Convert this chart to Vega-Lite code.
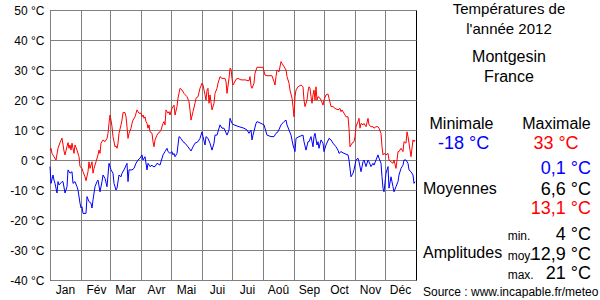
{
"$schema": "https://vega.github.io/schema/vega-lite/v6.json",
"background": "white",
"padding": {"left": 9, "top": 2, "right": 0, "bottom": 0},
"spacing": 0,
"config": {"font": "Liberation Sans", "view": {"stroke": "black", "strokeWidth": 1}},
"resolve": {"scale": {"color": "independent", "x": "independent", "y": "independent"}},
"hconcat": [
{
"width": 366, "height": 270,
"data": {"values": [
{"d":0,"t":3.3,"s":"max"},{"d":1,"t":3.9,"s":"max"},{"d":2,"t":2.2,"s":"max"},{"d":4,"t":1.1,"s":"max"},{"d":6,"t":0,"s":"max"},{"d":8,"t":3.9,"s":"max"},{"d":10,"t":5.8,"s":"max"},{"d":12,"t":7.3,"s":"max"},{"d":14,"t":3,"s":"max"},{"d":15,"t":1.7,"s":"max"},{"d":17,"t":4.5,"s":"max"},{"d":18,"t":5.8,"s":"max"},{"d":19,"t":3.9,"s":"max"},{"d":20,"t":5,"s":"max"},{"d":21,"t":3.3,"s":"max"},{"d":22,"t":5.6,"s":"max"},{"d":24,"t":2.2,"s":"max"},{"d":25,"t":5,"s":"max"},{"d":27,"t":3.3,"s":"max"},{"d":29,"t":1.1,"s":"max"},{"d":30,"t":-2.2,"s":"max"},{"d":32,"t":-2.8,"s":"max"},{"d":33,"t":-3.9,"s":"max"},{"d":35,"t":-5.6,"s":"max"},{"d":36,"t":-6.9,"s":"max"},{"d":38,"t":-3.9,"s":"max"},{"d":39,"t":-0.6,"s":"max"},{"d":40,"t":-2.8,"s":"max"},{"d":42,"t":-0.6,"s":"max"},{"d":43,"t":-4.4,"s":"max"},{"d":44,"t":-2.8,"s":"max"},{"d":46,"t":-0.6,"s":"max"},{"d":48,"t":1.7,"s":"max"},{"d":49,"t":3.3,"s":"max"},{"d":50,"t":2.2,"s":"max"},{"d":51,"t":5.6,"s":"max"},{"d":53,"t":6.7,"s":"max"},{"d":55,"t":6.1,"s":"max"},{"d":57,"t":7.2,"s":"max"},{"d":58,"t":8.9,"s":"max"},{"d":59,"t":12.2,"s":"max"},{"d":60,"t":15,"s":"max"},{"d":61,"t":13.3,"s":"max"},{"d":62,"t":11.1,"s":"max"},{"d":63,"t":7.8,"s":"max"},{"d":65,"t":4.4,"s":"max"},{"d":66,"t":4.7,"s":"max"},{"d":67,"t":3.9,"s":"max"},{"d":68,"t":5.6,"s":"max"},{"d":69,"t":8.9,"s":"max"},{"d":71,"t":11.7,"s":"max"},{"d":72,"t":13.3,"s":"max"},{"d":73,"t":15.8,"s":"max"},{"d":75,"t":15.8,"s":"max"},{"d":76,"t":14.4,"s":"max"},{"d":77,"t":11.1,"s":"max"},{"d":78,"t":7.2,"s":"max"},{"d":79,"t":8.9,"s":"max"},{"d":81,"t":10.6,"s":"max"},{"d":82,"t":12.2,"s":"max"},{"d":83,"t":13.3,"s":"max"},{"d":85,"t":14.4,"s":"max"},{"d":87,"t":16.7,"s":"max"},{"d":88,"t":16.1,"s":"max"},{"d":89,"t":15.6,"s":"max"},{"d":91,"t":15.6,"s":"max"},{"d":92,"t":14.4,"s":"max"},{"d":93,"t":15,"s":"max"},{"d":94,"t":13.9,"s":"max"},{"d":95,"t":14.4,"s":"max"},{"d":96,"t":12.8,"s":"max"},{"d":97,"t":12.2,"s":"max"},{"d":98,"t":10.6,"s":"max"},{"d":99,"t":11.7,"s":"max"},{"d":100,"t":9.4,"s":"max"},{"d":102,"t":8.9,"s":"max"},{"d":103,"t":6.1,"s":"max"},{"d":104,"t":4.4,"s":"max"},{"d":105,"t":6.7,"s":"max"},{"d":107,"t":8.3,"s":"max"},{"d":108,"t":8.9,"s":"max"},{"d":110,"t":9.4,"s":"max"},{"d":111,"t":10,"s":"max"},{"d":113,"t":12.2,"s":"max"},{"d":114,"t":12.8,"s":"max"},{"d":115,"t":11.7,"s":"max"},{"d":116,"t":16.7,"s":"max"},{"d":118,"t":15.6,"s":"max"},{"d":119,"t":16.1,"s":"max"},{"d":120,"t":15,"s":"max"},{"d":122,"t":17.2,"s":"max"},{"d":124,"t":18.3,"s":"max"},{"d":125,"t":15,"s":"max"},{"d":127,"t":17.8,"s":"max"},{"d":128,"t":20.6,"s":"max"},{"d":130,"t":23.9,"s":"max"},{"d":132,"t":23.3,"s":"max"},{"d":134,"t":22.2,"s":"max"},{"d":137,"t":21.1,"s":"max"},{"d":139,"t":19.4,"s":"max"},{"d":140,"t":16.7,"s":"max"},{"d":141,"t":13.3,"s":"max"},{"d":143,"t":16.1,"s":"max"},{"d":145,"t":18.9,"s":"max"},{"d":146,"t":20.6,"s":"max"},{"d":148,"t":21.1,"s":"max"},{"d":150,"t":23.9,"s":"max"},{"d":152,"t":25.6,"s":"max"},{"d":153,"t":25,"s":"max"},{"d":155,"t":21.7,"s":"max"},{"d":156,"t":20,"s":"max"},{"d":157,"t":23.3,"s":"max"},{"d":158,"t":23.9,"s":"max"},{"d":159,"t":18.9,"s":"max"},{"d":160,"t":21.7,"s":"max"},{"d":162,"t":16.7,"s":"max"},{"d":164,"t":18.9,"s":"max"},{"d":165,"t":22.2,"s":"max"},{"d":167,"t":23.9,"s":"max"},{"d":168,"t":25.6,"s":"max"},{"d":170,"t":27.8,"s":"max"},{"d":172,"t":27.2,"s":"max"},{"d":175,"t":27.2,"s":"max"},{"d":176,"t":26.1,"s":"max"},{"d":177,"t":22.2,"s":"max"},{"d":179,"t":27.2,"s":"max"},{"d":180,"t":30.6,"s":"max"},{"d":181,"t":30.3,"s":"max"},{"d":182,"t":27.2,"s":"max"},{"d":183,"t":25,"s":"max"},{"d":184,"t":25.6,"s":"max"},{"d":186,"t":26.9,"s":"max"},{"d":188,"t":27.2,"s":"max"},{"d":191,"t":26.7,"s":"max"},{"d":195,"t":26.7,"s":"max"},{"d":199,"t":26.4,"s":"max"},{"d":200,"t":27.8,"s":"max"},{"d":201,"t":24.7,"s":"max"},{"d":202,"t":23.9,"s":"max"},{"d":204,"t":25.6,"s":"max"},{"d":205,"t":28.9,"s":"max"},{"d":207,"t":30.9,"s":"max"},{"d":213,"t":30.9,"s":"max"},{"d":215,"t":28.3,"s":"max"},{"d":217,"t":28.1,"s":"max"},{"d":222,"t":28.1,"s":"max"},{"d":224,"t":26.1,"s":"max"},{"d":225,"t":25,"s":"max"},{"d":226,"t":27.8,"s":"max"},{"d":227,"t":30,"s":"max"},{"d":229,"t":29.4,"s":"max"},{"d":231,"t":32.8,"s":"max"},{"d":232,"t":32.2,"s":"max"},{"d":234,"t":31.1,"s":"max"},{"d":236,"t":30,"s":"max"},{"d":237,"t":27.8,"s":"max"},{"d":239,"t":25.6,"s":"max"},{"d":240,"t":23.3,"s":"max"},{"d":242,"t":20.6,"s":"max"},{"d":243,"t":17.8,"s":"max"},{"d":244,"t":14.4,"s":"max"},{"d":245,"t":21.1,"s":"max"},{"d":246,"t":23.3,"s":"max"},{"d":248,"t":24.4,"s":"max"},{"d":251,"t":25,"s":"max"},{"d":253,"t":24.4,"s":"max"},{"d":254,"t":20,"s":"max"},{"d":255,"t":17.8,"s":"max"},{"d":257,"t":20,"s":"max"},{"d":258,"t":22.8,"s":"max"},{"d":259,"t":24.4,"s":"max"},{"d":260,"t":23.9,"s":"max"},{"d":261,"t":21.1,"s":"max"},{"d":262,"t":18.9,"s":"max"},{"d":263,"t":21.7,"s":"max"},{"d":264,"t":23.3,"s":"max"},{"d":265,"t":20,"s":"max"},{"d":266,"t":24.4,"s":"max"},{"d":267,"t":20,"s":"max"},{"d":268,"t":21.1,"s":"max"},{"d":270,"t":20.6,"s":"max"},{"d":271,"t":20,"s":"max"},{"d":273,"t":18.3,"s":"max"},{"d":274,"t":20,"s":"max"},{"d":276,"t":21.7,"s":"max"},{"d":278,"t":22,"s":"max"},{"d":279,"t":20.6,"s":"max"},{"d":281,"t":17.8,"s":"max"},{"d":283,"t":17.8,"s":"max"},{"d":285,"t":17.2,"s":"max"},{"d":288,"t":16.7,"s":"max"},{"d":290,"t":17.2,"s":"max"},{"d":291,"t":16.1,"s":"max"},{"d":292,"t":16.7,"s":"max"},{"d":294,"t":15.6,"s":"max"},{"d":296,"t":14.4,"s":"max"},{"d":298,"t":14.4,"s":"max"},{"d":299,"t":10.6,"s":"max"},{"d":300,"t":4.4,"s":"max"},{"d":302,"t":5.6,"s":"max"},{"d":304,"t":6.1,"s":"max"},{"d":305,"t":7.8,"s":"max"},{"d":306,"t":11.1,"s":"max"},{"d":308,"t":12.8,"s":"max"},{"d":309,"t":13.9,"s":"max"},{"d":310,"t":10.6,"s":"max"},{"d":311,"t":12.2,"s":"max"},{"d":313,"t":11.7,"s":"max"},{"d":314,"t":12.2,"s":"max"},{"d":316,"t":11.1,"s":"max"},{"d":318,"t":13.9,"s":"max"},{"d":319,"t":11.7,"s":"max"},{"d":321,"t":11.1,"s":"max"},{"d":323,"t":11.1,"s":"max"},{"d":324,"t":10.6,"s":"max"},{"d":326,"t":11.1,"s":"max"},{"d":328,"t":11.1,"s":"max"},{"d":329,"t":10.6,"s":"max"},{"d":331,"t":8.9,"s":"max"},{"d":332,"t":4.4,"s":"max"},{"d":333,"t":1.7,"s":"max"},{"d":334,"t":2.2,"s":"max"},{"d":336,"t":1.7,"s":"max"},{"d":338,"t":2.2,"s":"max"},{"d":339,"t":0,"s":"max"},{"d":341,"t":-0.6,"s":"max"},{"d":343,"t":-1.1,"s":"max"},{"d":344,"t":0,"s":"max"},{"d":346,"t":-2.8,"s":"max"},{"d":348,"t":2.8,"s":"max"},{"d":349,"t":2.8,"s":"max"},{"d":351,"t":3.9,"s":"max"},{"d":353,"t":2.8,"s":"max"},{"d":354,"t":6.1,"s":"max"},{"d":356,"t":5.6,"s":"max"},{"d":357,"t":9.4,"s":"max"},{"d":358,"t":7.8,"s":"max"},{"d":359,"t":5.6,"s":"max"},{"d":361,"t":1.1,"s":"max"},{"d":363,"t":6.7,"s":"max"},{"d":364,"t":6.1,"s":"max"},{"d":365,"t":6.7,"s":"max"},
{"d":0,"t":-2.2,"s":"min"},{"d":1,"t":-7.8,"s":"min"},{"d":3,"t":-5,"s":"min"},{"d":4,"t":-6.7,"s":"min"},{"d":5,"t":-7.8,"s":"min"},{"d":7,"t":-11,"s":"min"},{"d":8,"t":-7.2,"s":"min"},{"d":9,"t":-8.3,"s":"min"},{"d":12,"t":-7.2,"s":"min"},{"d":13,"t":-7.2,"s":"min"},{"d":15,"t":-11,"s":"min"},{"d":17,"t":-8.9,"s":"min"},{"d":18,"t":-3.3,"s":"min"},{"d":20,"t":-4.4,"s":"min"},{"d":22,"t":-3.9,"s":"min"},{"d":23,"t":-7.8,"s":"min"},{"d":25,"t":-7.2,"s":"min"},{"d":27,"t":-8.9,"s":"min"},{"d":28,"t":-10,"s":"min"},{"d":30,"t":-14.4,"s":"min"},{"d":31,"t":-16,"s":"min"},{"d":32,"t":-15.6,"s":"min"},{"d":33,"t":-17.8,"s":"min"},{"d":36,"t":-17.8,"s":"min"},{"d":37,"t":-12.2,"s":"min"},{"d":39,"t":-13.9,"s":"min"},{"d":41,"t":-14.4,"s":"min"},{"d":42,"t":-16,"s":"min"},{"d":43,"t":-13.3,"s":"min"},{"d":45,"t":-8.9,"s":"min"},{"d":47,"t":-7.2,"s":"min"},{"d":48,"t":-6.7,"s":"min"},{"d":50,"t":-10.6,"s":"min"},{"d":52,"t":-7.2,"s":"min"},{"d":53,"t":-5,"s":"min"},{"d":55,"t":-6.1,"s":"min"},{"d":57,"t":-8.9,"s":"min"},{"d":58,"t":-5,"s":"min"},{"d":59,"t":-1.1,"s":"min"},{"d":61,"t":-3.3,"s":"min"},{"d":63,"t":-4.4,"s":"min"},{"d":64,"t":-7.8,"s":"min"},{"d":66,"t":-10,"s":"min"},{"d":67,"t":-9.4,"s":"min"},{"d":69,"t":-5,"s":"min"},{"d":71,"t":-5.6,"s":"min"},{"d":72,"t":-4.4,"s":"min"},{"d":74,"t":-3.3,"s":"min"},{"d":77,"t":-1.1,"s":"min"},{"d":78,"t":-7.2,"s":"min"},{"d":79,"t":-3.3,"s":"min"},{"d":82,"t":-3.3,"s":"min"},{"d":84,"t":-2.8,"s":"min"},{"d":86,"t":-1.1,"s":"min"},{"d":88,"t":0,"s":"min"},{"d":90,"t":0.6,"s":"min"},{"d":92,"t":1.7,"s":"min"},{"d":93,"t":0,"s":"min"},{"d":95,"t":1.1,"s":"min"},{"d":97,"t":-3.3,"s":"min"},{"d":98,"t":-1.1,"s":"min"},{"d":100,"t":-2.2,"s":"min"},{"d":102,"t":-1.7,"s":"min"},{"d":103,"t":-2.2,"s":"min"},{"d":105,"t":-2.2,"s":"min"},{"d":107,"t":-1.1,"s":"min"},{"d":110,"t":-1.7,"s":"min"},{"d":113,"t":1.7,"s":"min"},{"d":115,"t":2.8,"s":"min"},{"d":117,"t":3.9,"s":"min"},{"d":118,"t":2.8,"s":"min"},{"d":120,"t":2.2,"s":"min"},{"d":122,"t":2.8,"s":"min"},{"d":123,"t":1.7,"s":"min"},{"d":124,"t":2.2,"s":"min"},{"d":125,"t":1.1,"s":"min"},{"d":127,"t":2.2,"s":"min"},{"d":129,"t":7.8,"s":"min"},{"d":131,"t":7.2,"s":"min"},{"d":133,"t":6.1,"s":"min"},{"d":135,"t":5.6,"s":"min"},{"d":138,"t":4.4,"s":"min"},{"d":141,"t":3,"s":"min"},{"d":143,"t":4.4,"s":"min"},{"d":145,"t":5.6,"s":"min"},{"d":148,"t":6.1,"s":"min"},{"d":150,"t":7.2,"s":"min"},{"d":152,"t":9.4,"s":"min"},{"d":153,"t":7.8,"s":"min"},{"d":155,"t":5,"s":"min"},{"d":156,"t":7.8,"s":"min"},{"d":158,"t":7.2,"s":"min"},{"d":160,"t":5.6,"s":"min"},{"d":162,"t":3.3,"s":"min"},{"d":164,"t":5.6,"s":"min"},{"d":165,"t":8.3,"s":"min"},{"d":167,"t":8.3,"s":"min"},{"d":170,"t":11.7,"s":"min"},{"d":172,"t":10.6,"s":"min"},{"d":174,"t":10.6,"s":"min"},{"d":177,"t":8.3,"s":"min"},{"d":179,"t":10,"s":"min"},{"d":180,"t":13.9,"s":"min"},{"d":182,"t":12.2,"s":"min"},{"d":184,"t":11.7,"s":"min"},{"d":189,"t":11.1,"s":"min"},{"d":194,"t":10.6,"s":"min"},{"d":197,"t":10,"s":"min"},{"d":199,"t":8.9,"s":"min"},{"d":201,"t":10,"s":"min"},{"d":202,"t":6.7,"s":"min"},{"d":203,"t":8.3,"s":"min"},{"d":206,"t":12.2,"s":"min"},{"d":207,"t":12.8,"s":"min"},{"d":211,"t":12.2,"s":"min"},{"d":214,"t":11.7,"s":"min"},{"d":217,"t":8.3,"s":"min"},{"d":221,"t":7.8,"s":"min"},{"d":224,"t":7.8,"s":"min"},{"d":226,"t":8.9,"s":"min"},{"d":228,"t":9.4,"s":"min"},{"d":231,"t":11.7,"s":"min"},{"d":234,"t":12.8,"s":"min"},{"d":236,"t":13.3,"s":"min"},{"d":237,"t":11.7,"s":"min"},{"d":241,"t":8.3,"s":"min"},{"d":243,"t":5,"s":"min"},{"d":245,"t":2.8,"s":"min"},{"d":246,"t":7.2,"s":"min"},{"d":249,"t":7.8,"s":"min"},{"d":253,"t":8.3,"s":"min"},{"d":254,"t":6.1,"s":"min"},{"d":256,"t":3.3,"s":"min"},{"d":258,"t":6.1,"s":"min"},{"d":259,"t":6.1,"s":"min"},{"d":261,"t":7.8,"s":"min"},{"d":263,"t":4.4,"s":"min"},{"d":264,"t":7.8,"s":"min"},{"d":265,"t":8.9,"s":"min"},{"d":267,"t":5,"s":"min"},{"d":268,"t":6.1,"s":"min"},{"d":269,"t":3.9,"s":"min"},{"d":271,"t":6.7,"s":"min"},{"d":273,"t":5.6,"s":"min"},{"d":274,"t":2.8,"s":"min"},{"d":276,"t":5,"s":"min"},{"d":279,"t":7.2,"s":"min"},{"d":281,"t":6.7,"s":"min"},{"d":283,"t":5.6,"s":"min"},{"d":286,"t":4.4,"s":"min"},{"d":288,"t":3.3,"s":"min"},{"d":289,"t":2.2,"s":"min"},{"d":291,"t":2.8,"s":"min"},{"d":294,"t":2.2,"s":"min"},{"d":298,"t":1.7,"s":"min"},{"d":299,"t":0,"s":"min"},{"d":301,"t":-5.6,"s":"min"},{"d":303,"t":-4.4,"s":"min"},{"d":304,"t":-3.3,"s":"min"},{"d":306,"t":0,"s":"min"},{"d":308,"t":0.6,"s":"min"},{"d":309,"t":-0.6,"s":"min"},{"d":311,"t":-3.9,"s":"min"},{"d":313,"t":-0.6,"s":"min"},{"d":314,"t":0,"s":"min"},{"d":316,"t":-2.2,"s":"min"},{"d":318,"t":0,"s":"min"},{"d":319,"t":-0.6,"s":"min"},{"d":321,"t":-2.2,"s":"min"},{"d":323,"t":-1.1,"s":"min"},{"d":324,"t":-1.7,"s":"min"},{"d":326,"t":0,"s":"min"},{"d":328,"t":1.7,"s":"min"},{"d":329,"t":0.6,"s":"min"},{"d":331,"t":-1.1,"s":"min"},{"d":332,"t":-5.6,"s":"min"},{"d":333,"t":-9.4,"s":"min"},{"d":334,"t":-10.6,"s":"min"},{"d":336,"t":-4.4,"s":"min"},{"d":338,"t":-2.2,"s":"min"},{"d":339,"t":-9.4,"s":"min"},{"d":341,"t":-5.6,"s":"min"},{"d":343,"t":-8.9,"s":"min"},{"d":344,"t":-10.6,"s":"min"},{"d":346,"t":-8.9,"s":"min"},{"d":348,"t":-7.2,"s":"min"},{"d":349,"t":-5,"s":"min"},{"d":351,"t":-2.8,"s":"min"},{"d":353,"t":-1.7,"s":"min"},{"d":354,"t":0,"s":"min"},{"d":356,"t":0,"s":"min"},{"d":358,"t":-1.1,"s":"min"},{"d":359,"t":-3.3,"s":"min"},{"d":361,"t":-3.9,"s":"min"},{"d":363,"t":-5,"s":"min"},{"d":364,"t":-7.8,"s":"min"},{"d":365,"t":-7.2,"s":"min"}
]},
"mark": {"type": "line", "strokeWidth": 1, "interpolate": "linear"},
"encoding": {
"x": {"field": "d", "type": "quantitative",
"scale": {"domain": [0, 366], "nice": false, "zero": false},
"axis": {"values": [0,31,60,91,121,152,182,213,244,274,305,335], "grid": true, "gridColor": "#808080", "gridWidth": 1, "gridOpacity": 1, "domain": false, "ticks": false, "title": null,
"labelExpr": "['Jan','Fév','Mar','Avr','Mai','Jui','Jui','Aoû','Sep','Oct','Nov','Déc'][indexof([0,31,60,91,121,152,182,213,244,274,305,335], datum.value)]",
"labelOffset": 15, "labelPadding": 4, "labelFontSize": 12, "labelColor": "black", "labelFlush": false, "labelOverlap": false, "labelAlign": "center"}},
"y": {"field": "t", "type": "quantitative",
"scale": {"domain": [-40, 50], "nice": false, "zero": false},
"axis": {"values": [-40,-30,-20,-10,0,10,20,30,40,50], "grid": true, "gridColor": "#808080", "gridWidth": 1, "gridOpacity": 1, "domain": false, "ticks": false, "title": null,
"labelExpr": "datum.value + ' °C'", "labelPadding": 6, "labelFontSize": 12, "labelColor": "black", "labelFlush": false, "labelOverlap": false}},
"color": {"field": "s", "type": "nominal", "scale": {"domain": ["max", "min"], "range": ["#ff0000", "#0000ff"]}, "legend": null},
"order": {"field": "d", "type": "quantitative"}
}
},
{
"width": 184, "height": 270,
"view": {"stroke": null},
"encoding": {
"x": {"field": "px", "type": "quantitative", "scale": {"domain": [0, 184], "nice": false, "zero": false}, "axis": null},
"y": {"field": "py", "type": "quantitative", "scale": {"domain": [0, 270], "nice": false, "zero": false, "reverse": true}, "axis": null},
"text": {"field": "txt", "type": "nominal"}
},
"layer": [
{"data": {"values": [{"txt": "Températures de", "px": 91, "py": 4}, {"txt": "l'année 2012", "px": 91, "py": 24.3}]},
 "mark": {"type": "text", "fontSize": 15, "align": "center", "baseline": "alphabetic", "color": "black"}},
{"data": {"values": [{"txt": "Montgesin", "px": 91, "py": 52.3}, {"txt": "France", "px": 91, "py": 71.7}]},
 "mark": {"type": "text", "fontSize": 16, "align": "center", "baseline": "alphabetic", "color": "black"}},
{"data": {"values": [{"txt": "Minimale", "px": 43.5, "py": 119.3}, {"txt": "Maximale", "px": 138.5, "py": 119.3}]},
 "mark": {"type": "text", "fontSize": 16, "align": "center", "baseline": "alphabetic", "color": "black"}},
{"data": {"values": [{"txt": "-18 °C", "px": 45.7, "py": 139, "k": "min"}, {"txt": "33 °C", "px": 138, "py": 139, "k": "max"}]},
 "mark": {"type": "text", "fontSize": 18, "align": "center", "baseline": "alphabetic"},
 "encoding": {"color": {"field": "k", "type": "nominal", "scale": {"domain": ["min", "avg", "max"], "range": ["#0000ff", "#000000", "#ff0000"]}, "legend": null}}},
{"data": {"values": [{"txt": "0,1 °C", "px": 173, "py": 164.3, "k": "min"}, {"txt": "6,6 °C", "px": 173, "py": 185, "k": "avg"}, {"txt": "13,1 °C", "px": 173, "py": 204.3, "k": "max"}, {"txt": "4 °C", "px": 173, "py": 230, "k": "avg"}, {"txt": "12,9 °C", "px": 173, "py": 250, "k": "avg"}, {"txt": "21 °C", "px": 173, "py": 269, "k": "avg"}]},
 "mark": {"type": "text", "fontSize": 18, "align": "right", "baseline": "alphabetic"},
 "encoding": {"color": {"field": "k", "type": "nominal", "scale": {"domain": ["min", "avg", "max"], "range": ["#0000ff", "#000000", "#ff0000"]}, "legend": null}}},
{"data": {"values": [{"txt": "Moyennes", "px": 5, "py": 184}, {"txt": "Amplitudes", "px": 5, "py": 248.3}]},
 "mark": {"type": "text", "fontSize": 16, "align": "left", "baseline": "alphabetic", "color": "black"}},
{"data": {"values": [{"txt": "min.", "px": 89.7, "py": 230}, {"txt": "moy.", "px": 89.7, "py": 250}, {"txt": "max.", "px": 89.7, "py": 269}, {"txt": "Source : www.incapable.fr/meteo", "px": 5, "py": 286}]},
 "mark": {"type": "text", "fontSize": 12, "align": "left", "baseline": "alphabetic", "color": "black"}}
]
}
]
}
